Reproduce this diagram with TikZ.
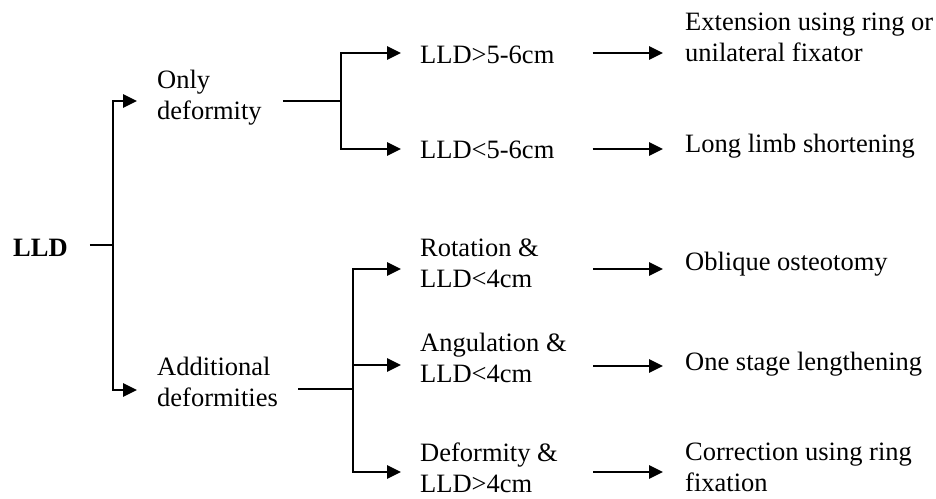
\documentclass[tikz,border=0pt]{standalone}
\usepackage{fontspec}
\setmainfont{Liberation Serif}
\usetikzlibrary{arrows.meta}
\begin{document}
\begin{tikzpicture}[x=1pt,y=-1pt,
  lbl/.style={inner sep=0pt,anchor=base west,align=left,font=\fontsize{26.5}{31}\selectfont},
  ln/.style={line width=2.8pt},
  arr/.style={line width=2.8pt,-{Triangle[length=14pt,width=13pt]}}]
\useasboundingbox (0,0) rectangle (936,498);
% nodes (base = last line's baseline)
\node[lbl,font=\fontsize{26.5}{31}\selectfont\bfseries] (lld) at (13,256) {LLD};
\node[lbl] (od) at (157,119) {Only\\deformity};
\node[lbl] (ad) at (157,406) {Additional\\deformities};
\node[lbl] (g1) at (420,63) {LLD>5-6cm};
\node[lbl] (l1) at (420,158) {LLD<5-6cm};
\node[lbl] (r1) at (420,287) {Rotation \&\\LLD<4cm};
\node[lbl] (a1) at (420,382) {Angulation \&\\LLD<4cm};
\node[lbl] (d1) at (420,492) {Deformity \&\\LLD>4cm};
\node[lbl] (e1) at (685,61) {Extension using ring or\\unilateral fixator};
\node[lbl] (s1) at (685,152) {Long limb shortening};
\node[lbl] (o1) at (685,270) {Oblique osteotomy};
\node[lbl] (t1) at (685,370) {One stage lengthening};
\node[lbl] (c1) at (685,491) {Correction using ring\\fixation};
% junctions
\coordinate (j0) at (113,245);
\coordinate (j1) at (341,101);
\coordinate (j2) at (353,389);
% level 1
\draw[ln] ([xshift=22pt]lld.east |- j0) -- (j0);
\draw[arr] (j0) |- ([xshift=-20pt]od.west |- 0,101);
\draw[arr] (j0) |- ([xshift=-20pt]ad.west |- 0,390);
% level 2 upper
\draw[ln] ([xshift=21pt]od.east |- j1) -- (j1);
\draw[arr] (j1) |- ([xshift=-19pt]g1.west |- 0,53);
\draw[arr] (j1) |- ([xshift=-19pt]l1.west |- 0,149);
% level 2 lower
\draw[ln] ([xshift=20pt]ad.east |- j2) -- (j2);
\draw[arr] (j2) |- ([xshift=-19pt]r1.west |- 0,269);
\draw[arr] (j2) |- ([xshift=-19pt]a1.west |- 0,365);
\draw[arr] (j2) |- ([xshift=-19pt]d1.west |- 0,472);
% level 3
\draw[arr] ([xshift=38pt]g1.east |- 0,53) -- ([xshift=-22pt]e1.west |- 0,53);
\draw[arr] ([xshift=38pt]l1.east |- 0,149) -- ([xshift=-22pt]s1.west |- 0,149);
\draw[arr] (593,269) -- ([xshift=-22pt]o1.west |- 0,269);
\draw[arr] (593,366) -- ([xshift=-22pt]t1.west |- 0,366);
\draw[arr] (593,472) -- ([xshift=-22pt]c1.west |- 0,472);
\end{tikzpicture}
\end{document}
